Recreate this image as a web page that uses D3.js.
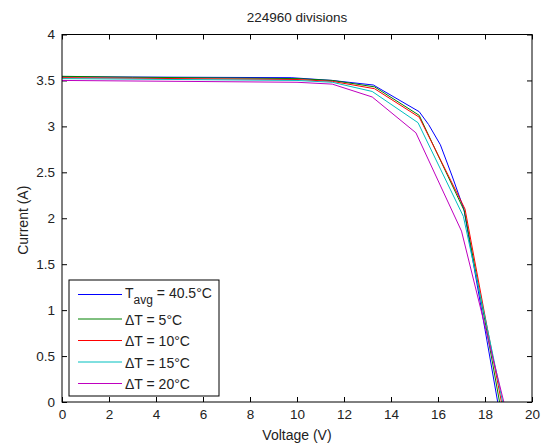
<!DOCTYPE html>
<html>
<head>
<meta charset="utf-8">
<script src="https://cdn.jsdelivr.net/npm/d3@7"></script>
<style>
  html, body { margin: 0; padding: 0; background: #fff; }
  svg { display: block; font-family: "Liberation Sans", Arial, sans-serif; }
</style>
</head>
<body>
<svg id="chart" width="542" height="447"></svg>
<script>
// I–V curves of the module for different temperature spreads
const seriesNames = ["Tavg", "dT5", "dT10", "dT15", "dT20"];
const seriesColors = ["#0000ff", "#008000", "#ff0000", "#00bfbf", "#bf00bf"];

// voltage (V), current (A)
const tavgV = [0, 9.75, 11.5, 13.25, 15.2, 15.6, 16.1, 16.6, 17.1, 18.0, 18.54];
const tavgI = [3.54, 3.53, 3.50, 3.45, 3.16, 3.02, 2.80, 2.46, 2.10, 0.79, 0];

const dT5V = [0, 3.0, 10.0, 11.5, 13.3, 15.2, 17.12, 18.0, 18.62];
const dT5I = [3.545, 3.535, 3.52, 3.50, 3.43, 3.12, 2.08, 0.88, 0];

const dT10V = [0, 10.0, 11.5, 13.3, 15.2, 17.15, 18.1, 18.7];
const dT10I = [3.53, 3.51, 3.49, 3.41, 3.10, 2.10, 0.80, 0];

const dT15V = [0, 10.0, 11.5, 13.2, 15.15, 17.08, 18.1, 18.75];
const dT15I = [3.52, 3.50, 3.48, 3.38, 3.04, 2.02, 0.80, 0];

const dT20V = [0, 10.0, 11.5, 13.2, 15.06, 17.0, 18.2, 18.8];
const dT20I = [3.50, 3.48, 3.46, 3.32, 2.93, 1.86, 0.62, 0];

const xTicks = [0, 2, 4, 6, 8, 10, 12, 14, 16, 18, 20];
const yTicks = [0, 0.5, 1, 1.5, 2, 2.5, 3, 3.5, 4];

const titleText = "224960 divisions";
const xLabelText = "Voltage (V)";
const yLabelText = "Current (A)";

const series = [
  { v: tavgV, i: tavgI },
  { v: dT5V, i: dT5I },
  { v: dT10V, i: dT10I },
  { v: dT15V, i: dT15I },
  { v: dT20V, i: dT20I }
].map((s, k) => ({
  name: seriesNames[k],
  color: seriesColors[k],
  points: s.v.map((v, j) => [v, s.i[j]])
}));

const svg = d3.select("#chart");
const plot = { left: 62, right: 532, top: 34.5, bottom: 402 };

const x = d3.scaleLinear().domain([0, 20]).range([plot.left, plot.right]);
const y = d3.scaleLinear().domain([0, 4]).range([plot.bottom, plot.top]);

const tickLen = 5;
const axisColor = "#000";
const textColor = "#222";

// bottom axis with labels, ticks pointing inward
const gx = svg.append("g")
  .attr("transform", `translate(0,${plot.bottom})`)
  .call(d3.axisBottom(x).tickValues(xTicks).tickFormat(d3.format("d"))
    .tickSizeInner(-tickLen).tickSizeOuter(0).tickPadding(7));
// top ticks
const gxt = svg.append("g")
  .attr("transform", `translate(0,${plot.top})`)
  .call(d3.axisTop(x).tickValues(xTicks).tickFormat("")
    .tickSizeInner(-tickLen).tickSizeOuter(0));
// left axis with labels
const gy = svg.append("g")
  .attr("transform", `translate(${plot.left},0)`)
  .call(d3.axisLeft(y).tickValues(yTicks).tickFormat(d => String(d))
    .tickSizeInner(-tickLen).tickSizeOuter(0).tickPadding(7));
// right ticks
const gyr = svg.append("g")
  .attr("transform", `translate(${plot.right},0)`)
  .call(d3.axisRight(y).tickValues(yTicks).tickFormat("")
    .tickSizeInner(-tickLen).tickSizeOuter(0));

[gx, gxt, gy, gyr].forEach(g => {
  g.select(".domain").remove();
  g.selectAll(".tick line").attr("stroke", axisColor).attr("stroke-width", 1);
  g.selectAll(".tick text")
    .attr("fill", textColor)
    .style("font-size", "13.5px")
    .style("font-family", "'Liberation Sans', Arial, sans-serif");
});

// data lines
const line = d3.line().x(d => x(d[0])).y(d => y(d[1]));
svg.append("g")
  .selectAll("path")
  .data(series)
  .join("path")
  .attr("d", d => line(d.points))
  .attr("fill", "none")
  .attr("stroke", d => d.color)
  .attr("stroke-width", 1);

// plot box
svg.append("rect")
  .attr("x", plot.left).attr("y", plot.top)
  .attr("width", plot.right - plot.left)
  .attr("height", plot.bottom - plot.top)
  .attr("fill", "none")
  .attr("stroke", axisColor)
  .attr("stroke-width", 1);

// title and axis labels
svg.append("text")
  .attr("x", (plot.left + plot.right) / 2).attr("y", 22)
  .attr("text-anchor", "middle")
  .style("font-size", "13.5px").attr("fill", textColor)
  .text(titleText);

svg.append("text")
  .attr("x", (plot.left + plot.right) / 2).attr("y", 440)
  .attr("text-anchor", "middle")
  .style("font-size", "14px").attr("fill", textColor)
  .text(xLabelText);

svg.append("text")
  .attr("transform", `translate(28,${(plot.top + plot.bottom) / 2 + 2}) rotate(-90)`)
  .attr("text-anchor", "middle")
  .style("font-size", "14px").attr("fill", textColor)
  .text(yLabelText);

// legend
const legend = { x: 69, y: 280, w: 150, h: 116 };
svg.append("rect")
  .attr("x", legend.x).attr("y", legend.y)
  .attr("width", legend.w).attr("height", legend.h)
  .attr("fill", "#fff").attr("stroke", axisColor).attr("stroke-width", 1);

const rowY = [294.5, 319, 340.5, 362, 383.5];
const legendRows = svg.append("g")
  .selectAll("g")
  .data(series)
  .join("g")
  .attr("transform", (d, k) => `translate(0,${rowY[k]})`);

legendRows.append("line")
  .attr("x1", 78).attr("x2", 122)
  .attr("y1", 0).attr("y2", 0)
  .attr("stroke", d => d.color).attr("stroke-width", 1);

const labelParts = [
  [["T", ""], ["avg", "sub"], [" = 40.5°C", ""]],
  [["ΔT = 5°C", ""]],
  [["ΔT = 10°C", ""]],
  [["ΔT = 15°C", ""]],
  [["ΔT = 20°C", ""]]
];

legendRows.each(function(d, k) {
  const t = d3.select(this).append("text")
    .attr("x", 125).attr("y", k === 0 ? 3 : 5.5)
    .style("font-size", "14px").attr("fill", textColor);
  labelParts[k].forEach(([txt, kind]) => {
    const ts = t.append("tspan").text(txt);
    if (kind === "sub") ts.attr("dy", 6).style("font-size", "12px");
    else if (k === 0 && txt.startsWith(" ")) ts.attr("dy", -6);
  });
});
</script>
</body>
</html>
